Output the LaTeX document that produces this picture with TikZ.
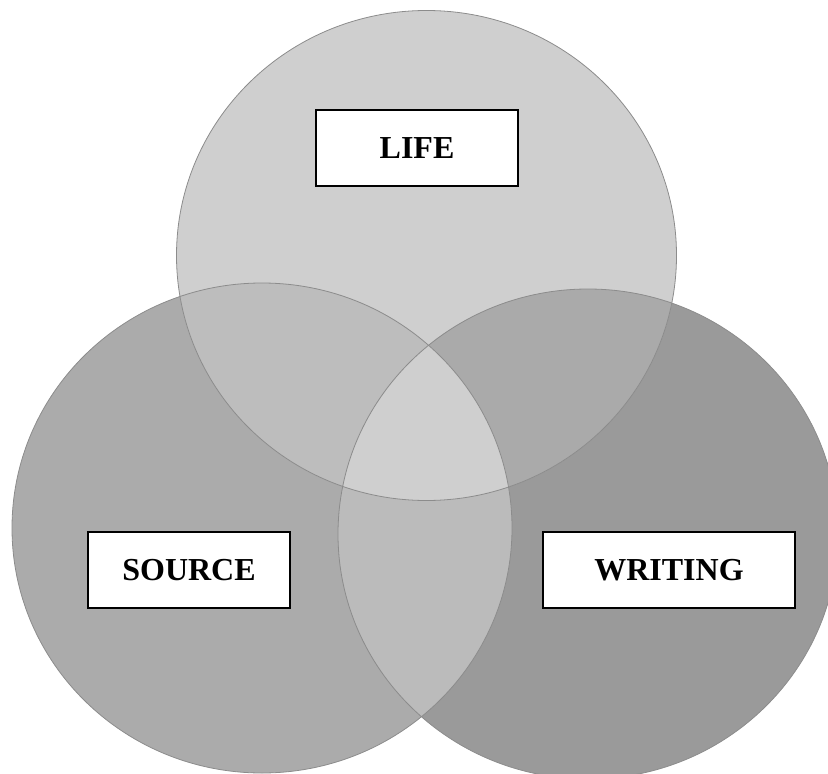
\documentclass[tikz,border=0pt]{standalone}
\usepackage{fontspec}
\setmainfont{Liberation Serif}
\definecolor{ctop}{gray}{0.812}
\definecolor{cleft}{gray}{0.671}
\definecolor{cright}{gray}{0.604}
\definecolor{ctl}{gray}{0.741}
\definecolor{ctr}{gray}{0.667}
\definecolor{clr}{gray}{0.733}
\definecolor{cline}{gray}{0.55}
\tikzset{
  lbl/.style={draw=black, line width=1.6pt, fill=white, minimum height=76pt, inner sep=0pt,
    font=\fontsize{32}{36}\selectfont\bfseries},
  rim/.style={draw=cline, line width=0.8pt},
  rad/.style={x radius=250pt, y radius=245pt}
}
\begin{document}
\begin{tikzpicture}[x=1pt,y=-1pt]
\useasboundingbox (0,0) rectangle (828,774);
\coordinate (T) at (426.5,255.5);
\coordinate (L) at (262,528);
\coordinate (R) at (588,534);
% base fills
\fill[cleft] (L) ellipse[rad];
\fill[cright] (R) ellipse[rad];
\fill[ctop] (T) ellipse[rad];
% top & left / top & right
\begin{scope}
  \clip (T) ellipse[rad];
  \fill[ctl] (L) ellipse[rad];
  \fill[ctr] (R) ellipse[rad];
\end{scope}
% left & right
\begin{scope}
  \clip (L) ellipse[rad];
  \fill[clr] (R) ellipse[rad];
\end{scope}
% all three
\begin{scope}
  \clip (L) ellipse[rad];
  \clip (R) ellipse[rad];
  \fill[ctop] (T) ellipse[rad];
\end{scope}
% outlines
\draw[rim] (L) ellipse[rad];
\draw[rim] (R) ellipse[rad];
\draw[rim] (T) ellipse[rad];
% labels
\node[lbl, minimum width=202pt] (life) at (417,148) {LIFE};
\node[lbl, minimum width=202pt] (source) at (189,570) {SOURCE};
\node[lbl, minimum width=252pt] (writing) at (669,570) {WRITING};
\end{tikzpicture}
\end{document}
